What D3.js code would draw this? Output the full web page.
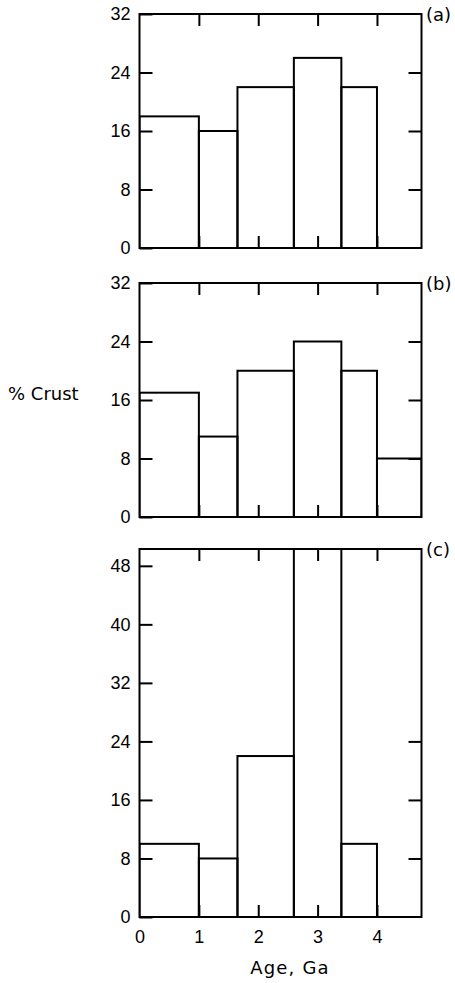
<!DOCTYPE html>
<html>
<head>
<meta charset="utf-8">
<script src="https://cdn.jsdelivr.net/npm/d3@7"></script>
<style>
  body { margin: 0; background: #fff; }
  svg { display: block; font-family: "DejaVu Sans", "Liberation Sans", Arial, sans-serif; }
</style>
</head>
<body>
<svg id="chart" width="455" height="983"></svg>
<script>
"use strict";

// Bornes des classes d'âge (Ga)
var binEdges = [0, 1, 1.65, 2.6, 3.4, 4.0, 4.75];

// % de croûte par classe, pour chaque panneau
var crustA = [18, 16, 22, 26, 22, 0];
var crustB = [17, 11, 20, 24, 20, 8];
var crustC = [10, 8, 22, 52, 10, 0];

var panelNames = ["(a)", "(b)", "(c)"];
var yTicksAB = [0, 8, 16, 24, 32];
var yTicksC = [0, 8, 16, 24, 32, 40, 48];
var rightTicks = [8, 16, 24];
var xTicks = [0, 1, 2, 3, 4];

var svg = d3.select("#chart");
var left = 139.5, right = 421.5;

var x = d3.scaleLinear().domain([0, 4.75]).range([left, right]);

var panels = [
  { name: panelNames[0], values: crustA, ticks: yTicksAB, max: 32, top: 14, bottom: 248 },
  { name: panelNames[1], values: crustB, ticks: yTicksAB, max: 32, top: 283, bottom: 517 },
  { name: panelNames[2], values: crustC, ticks: yTicksC, max: 50.3, top: 549, bottom: 917 }
];

/**
 * Dessine un panneau (histogramme + cadre + graduations).
 */
function drawPanel(p, i) {
  var y = d3.scaleLinear().domain([0, p.max]).range([p.bottom, p.top]);
  var g = svg.append("g").attr("class", "panel");

  g.append("clipPath").attr("id", "clip" + i)
    .append("rect")
    .attr("x", left).attr("y", p.top)
    .attr("width", right - left).attr("height", p.bottom - p.top);

  // barres (contours seulement)
  var bins = p.values.map(function (v, k) {
    return { x0: binEdges[k], x1: binEdges[k + 1], v: v };
  }).filter(function (d) { return d.v > 0; });

  g.append("g").attr("clip-path", "url(#clip" + i + ")")
    .selectAll("rect")
    .data(bins)
    .enter()
    .append("rect")
    .attr("x", function (d) { return x(d.x0); })
    .attr("y", function (d) { return y(d.v); })
    .attr("width", function (d) { return x(d.x1) - x(d.x0); })
    .attr("height", function (d) { return y(0) - y(d.v); })
    .attr("fill", "none")
    .attr("stroke", "#000")
    .attr("stroke-width", 2);

  // axe gauche avec étiquettes
  var yAxis = g.append("g")
    .attr("transform", "translate(" + left + ",0)")
    .call(d3.axisLeft(y).tickValues(p.ticks).tickSizeInner(-13).tickSizeOuter(0).tickPadding(9));

  // graduations à droite
  var rAxis = g.append("g")
    .attr("transform", "translate(" + right + ",0)")
    .call(d3.axisRight(y).tickValues(rightTicks).tickSizeInner(-13).tickSizeOuter(0).tickFormat(""));

  // graduations en haut et en bas
  var tAxis = g.append("g")
    .attr("transform", "translate(0," + p.top + ")")
    .call(d3.axisTop(x).tickValues([1, 2, 3, 4]).tickSizeInner(-12).tickSizeOuter(0).tickFormat(""));
  var bAxis = g.append("g")
    .attr("transform", "translate(0," + p.bottom + ")")
    .call(d3.axisBottom(x).tickValues([1, 2, 3, 4]).tickSizeInner(-12).tickSizeOuter(0).tickFormat(""));

  [yAxis, rAxis, tAxis, bAxis].forEach(function (a) {
    a.select(".domain").remove();
    a.selectAll("line").attr("stroke", "#000").attr("stroke-width", 2);
    a.selectAll("text").attr("font-size", 18).attr("fill", "#000").attr("font-family", null);
  });

  // cadre
  g.append("rect")
    .attr("x", left).attr("y", p.top)
    .attr("width", right - left).attr("height", p.bottom - p.top)
    .attr("fill", "none").attr("stroke", "#000").attr("stroke-width", 2);

  g.append("text")
    .attr("x", 426).attr("y", p.top + 7)
    .attr("font-size", 18)
    .text(p.name);

  if (i === 2) {
    var xAxis = g.append("g")
      .attr("transform", "translate(0," + p.bottom + ")")
      .call(d3.axisBottom(x).tickValues(xTicks).tickSize(0).tickPadding(13).tickFormat(d3.format("d")));
    xAxis.select(".domain").remove();
    xAxis.selectAll("text").attr("font-size", 18).attr("fill", "#000").attr("font-family", null);
  }
}

panels.forEach(drawPanel);

// titres des axes
svg.append("text")
  .attr("x", 8).attr("y", 400)
  .attr("font-size", 18)
  .text("% Crust");

svg.append("text")
  .attr("x", 290).attr("y", 974)
  .attr("text-anchor", "middle")
  .attr("font-size", 18)
  .attr("letter-spacing", 1.2)
  .text("Age, Ga");
</script>
</body>
</html>
